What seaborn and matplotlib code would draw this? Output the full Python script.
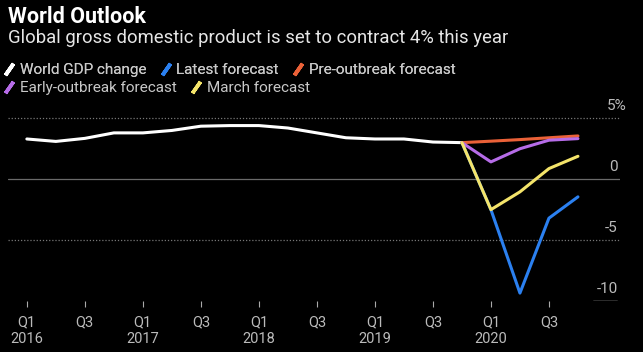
import pandas as pd
import seaborn as sns
import matplotlib.pyplot as plt
from matplotlib.lines import Line2D

quarters = ["Q1 2016", "Q2 2016", "Q3 2016", "Q4 2016",
            "Q1 2017", "Q2 2017", "Q3 2017", "Q4 2017",
            "Q1 2018", "Q2 2018", "Q3 2018", "Q4 2018",
            "Q1 2019", "Q2 2019", "Q3 2019", "Q4 2019",
            "Q1 2020", "Q2 2020", "Q3 2020", "Q4 2020"]

gdp_change = [3.3, 3.1, 3.35, 3.8, 3.8, 4.0, 4.35, 4.4,
              4.4, 4.2, 3.8, 3.4, 3.3, 3.3, 3.05, 3.0]

# forecasts start from Q4 2019
latest = [3.0, -2.5, -9.35, -3.2, -1.45]
pre_outbreak = [3.0, 3.12, 3.25, 3.4, 3.55]
early_outbreak = [3.0, 1.42, 2.5, 3.2, 3.33]
march = [3.0, -2.5, -1.04, 0.87, 1.88]

series_names = ["World GDP change", "Latest forecast", "Pre-outbreak forecast",
                "Early-outbreak forecast", "March forecast"]
colors = ["#ffffff", "#2b80f0", "#ea6138", "#b66ce8", "#f4e46a"]

y_labels = [(5, "5%"), (0, "0"), (-5, "-5"), (-10, "-10")]

rows = []
for i, v in enumerate(gdp_change):
    rows.append((i, v, series_names[0]))
start = len(gdp_change) - 1
for name, vals in zip(series_names[1:], [latest, pre_outbreak, early_outbreak, march]):
    for j, v in enumerate(vals):
        rows.append((start + j, v, name))
df = pd.DataFrame(rows, columns=["q", "value", "series"])

sns.set_style("dark")
plt.rcParams["font.family"] = ["Roboto", "DejaVu Sans"]

fig = plt.figure(figsize=(6.43, 3.52), dpi=100, facecolor="black")
ax = fig.add_axes([8 / 643, 51 / 352, 612 / 643, 201 / 352])
ax.set_facecolor("black")

sns.lineplot(data=df, x="q", y="value", hue="series", hue_order=series_names,
             palette=dict(zip(series_names, colors)), linewidth=2.2,
             legend=False, ax=ax, sort=True)

ax.set_xlim(-0.65, 20.45)
ax.set_ylim(-10, 6.5)

# gridlines
ax.axhline(5, color="#777777", lw=0.9, ls=(0, (1, 1.5)), zorder=0)
ax.axhline(-5, color="#777777", lw=0.9, ls=(0, (1, 1.5)), zorder=0)
ax.axhline(0, color="#6a6a6a", lw=0.9, zorder=0)
ax.axhline(-10, xmin=0.956, xmax=0.995, color="#dddddd", lw=1.0)

for val, lab in y_labels:
    xr = 1.01 if lab.endswith("%") else 0.996
    ax.text(xr, val + 0.45, lab, transform=ax.get_yaxis_transform(),
            ha="right", va="bottom", color="#bbbbbb", fontsize=11)

ax.set_yticks([])
tick_pos = list(range(0, 20, 2))
tick_lab = []
for p in tick_pos:
    q, yr = quarters[p].split()
    tick_lab.append(f"{q}\n{yr}" if q == "Q1" else q)
ax.set_xticks(tick_pos)
ax.set_xticklabels(tick_lab, color="#bbbbbb", fontsize=10.5, linespacing=1.25)
ax.tick_params(axis="x", direction="out", length=4, width=0.8, color="#aaaaaa",
               pad=6, bottom=True)
ax.set_xlabel("")
ax.set_ylabel("")
for s in ax.spines.values():
    s.set_visible(False)
ax.grid(False)

fig.text(8 / 643, 1 - 6 / 352, "World Outlook", color="white", fontsize=15.5,
         fontweight="bold", ha="left", va="top")
fig.text(8 / 643, 1 - 29 / 352,
         "Global gross domestic product is set to contract 4% this year",
         color="#e6e6e6", fontsize=13.3, ha="left", va="top")

handles = [Line2D([], [], color=c, marker=(2, 2, -35), linestyle="none",
                  markersize=10, markeredgewidth=2.6) for c in colors]
leg_kw = dict(frameon=False, handlelength=0.7, handletextpad=0.35,
              columnspacing=0.9, borderaxespad=0, borderpad=0,
              fontsize=11, labelcolor="#c8c8c8", loc="center left")
leg1 = fig.legend(handles[:3], series_names[:3], ncol=3,
                  bbox_to_anchor=(4 / 643, 1 - 70 / 352), **leg_kw)
fig.add_artist(leg1)
fig.legend(handles[3:], series_names[3:], ncol=2,
           bbox_to_anchor=(4 / 643, 1 - 88 / 352), **leg_kw)

fig.savefig("out.png", dpi=100, facecolor="black")
